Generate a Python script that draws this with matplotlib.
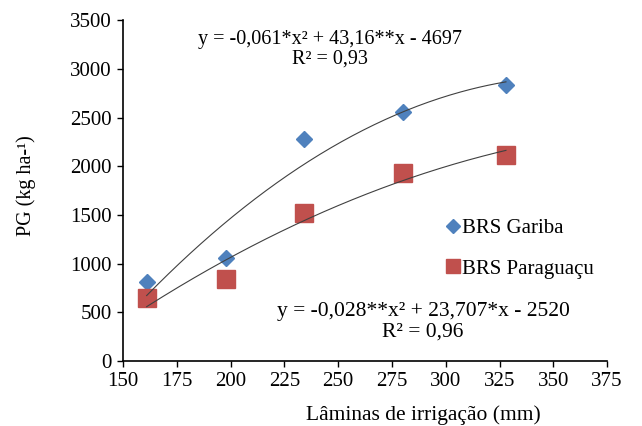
import numpy as np
import matplotlib
matplotlib.use('Agg')
import matplotlib.pyplot as plt

plt.rcParams['font.family'] = ['Liberation Serif', 'DejaVu Serif']

# Lâminas de irrigação (mm)
laminas = [161, 198, 234, 280, 328]
gariba = [815, 1057, 2278, 2558, 2835]
paraguacu = [650, 838, 1515, 1932, 2118]

x_ticks = [150, 175, 200, 225, 250, 275, 300, 325, 350, 375]
y_ticks = [0, 500, 1000, 1500, 2000, 2500, 3000, 3500]

fig = plt.figure(figsize=(6.42, 4.26), dpi=100)
ax = fig.add_axes([0.1916, 0.1526, 0.754, 0.8])

# linhas de tendência polinomiais (2a ordem)
xs = np.linspace(laminas[0], laminas[-1], 200)
cg = np.polyfit(laminas, gariba, 2)
cp = np.polyfit(laminas, paraguacu, 2)
ax.plot(xs, np.polyval(cg, xs), color='#404040', lw=0.8, zorder=3)
ax.plot(xs, np.polyval(cp, xs), color='#404040', lw=0.8, zorder=3)

ax.plot(laminas, gariba, linestyle='none', marker='D', markersize=8.5,
        color='#4F81BD', label='BRS Gariba', zorder=2)
ax.plot(laminas, paraguacu, linestyle='none', marker='s', markersize=13,
        color='#C0504D', label='BRS Paraguaçu', zorder=2)

ax.set_xlim(150, 375)
ax.set_ylim(0, 3500)
ax.set_xticks(x_ticks)
ax.set_yticks(y_ticks)
ax.tick_params(labelsize=15, direction='out', length=4, width=1, pad=4)
ax.spines['top'].set_visible(False)
ax.spines['right'].set_visible(False)
ax.spines['left'].set_linewidth(1.2)
ax.spines['bottom'].set_linewidth(1.2)

ax.set_xlabel('Lâminas de irrigação (mm)', fontsize=15.5)
ax.xaxis.set_label_coords(0.62, -0.129)
ax.set_ylabel('PG (kg ha-¹)', fontsize=14.5)
ax.yaxis.set_label_coords(-0.18, 0.516)

ax.text(0.428, 0.915, 'y = -0,061*x² + 43,16**x - 4697\nR² = 0,93',
        transform=ax.transAxes, ha='center', va='center', fontsize=14.5,
        linespacing=1.05)
ax.text(0.62, 0.115, 'y = -0,028**x² + 23,707*x - 2520\nR² = 0,96',
        transform=ax.transAxes, ha='center', va='center', fontsize=15.5,
        linespacing=1.15)

leg = ax.legend(loc='center left', bbox_to_anchor=(0.662, 0.33), frameon=False,
                fontsize=15, handletextpad=0.0, handlelength=0.9,
                labelspacing=1.0, borderpad=0, borderaxespad=0)
leg.legend_handles[0].set_markersize(7)
leg.legend_handles[1].set_markersize(10)

plt.savefig('out.png', dpi=100)
